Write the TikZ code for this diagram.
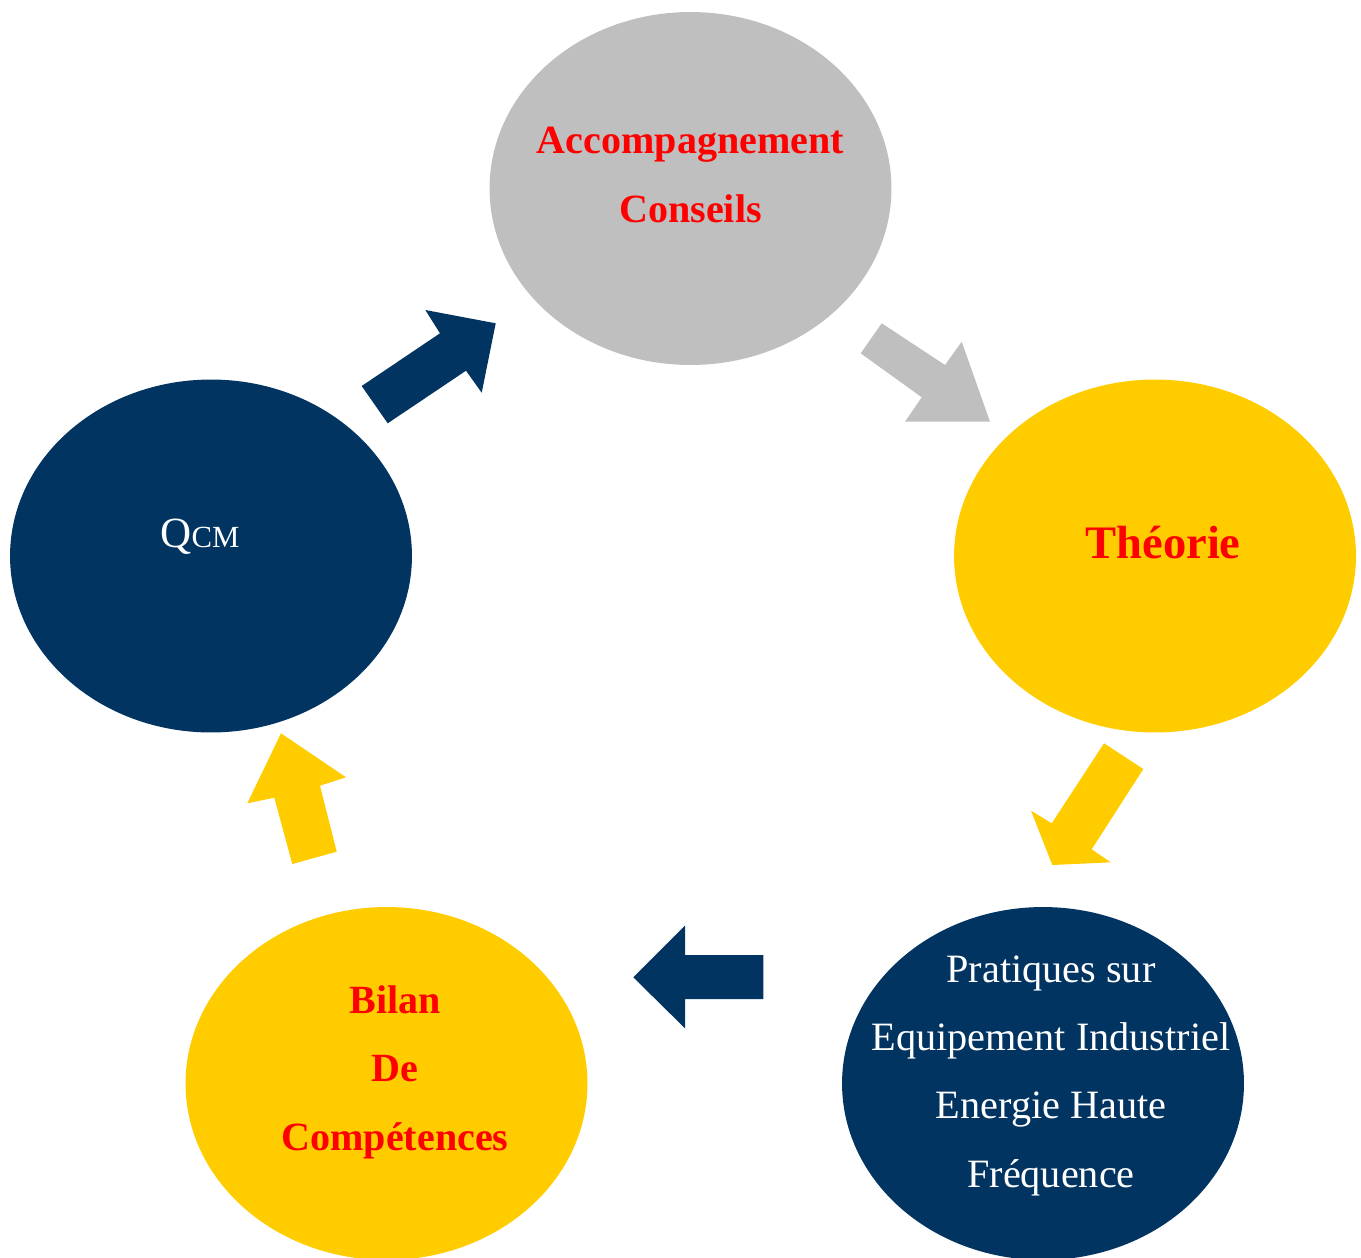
\documentclass[tikz,border=0pt]{standalone}
\usepackage{fontspec}
\setmainfont{Liberation Serif}
\usetikzlibrary{shapes.geometric}

\definecolor{navy}{HTML}{023462}
\definecolor{sun}{HTML}{FFCC00}
\definecolor{ash}{HTML}{BFBFBF}

\tikzset{
	etape/.style={ellipse,draw=none,minimum width=8.04cm,minimum height=7.06cm,inner sep=0pt},
	titre/.style={align=center,anchor=base,text=red,font=\fontsize{22.8}{38.8}\selectfont\bfseries},
	texte/.style={align=center,anchor=base,text=white,font=\fontsize{22.9}{38.8}\selectfont}
}

\begin{document}
\begin{tikzpicture}[x=0.02cm,y=-0.02cm]
		\useasboundingbox (0,0) rectangle (1361,1257);

		\node[etape,fill=ash] (acc) at (690.5,188.5) {};
		\node[etape,fill=sun] (theo) at (1155,556) {};
		\node[etape,fill=navy] (pra) at (1043,1083.5) {};
		\node[etape,fill=sun] (bil) at (386.5,1083.5) {};
		\node[etape,fill=navy] (qcm) at (211,556) {};

		\node[titre] (acc-t) at (690.5,222) {Accompagnement\\Conseils};
		\node[titre,font=\fontsize{26.5}{38.8}\selectfont\bfseries] (theo-t) at (1163,558) {Théorie};
		\node[texte] (pra-t) at (1051,1187) {Pratiques sur\\Equipement Industriel\\Energie Haute\\Fréquence};
		\node[titre] (bil-t) at (395,1150) {Bilan\\De\\Compétences};
		\node[texte,font=\fontsize{24.5}{30}\selectfont] (qcm-t) at (200,547) {Q{\fontsize{17.5}{20}\selectfont CM}};

		% fleches
		\fill[navy] (361.7,386) -- (440,333.3) -- (425.3,310) -- (495.7,323.3) -- (481.7,392.7) -- (466,370.7) -- (387.7,423.3) -- cycle;
		\fill[ash] (881.7,323.3) -- (945,365) -- (961.7,341.7) -- (990,421.7) -- (905,421.7) -- (921.7,397.3) -- (860.7,353.3) -- cycle;
		\fill[sun] (1104,743.3) -- (1143.3,769) -- (1091.7,849.3) -- (1110.7,862.3) -- (1052.3,865) -- (1031,810.7) -- (1051.7,823.3) -- cycle;
		\fill[navy] (763.3,955) -- (685,955) -- (685,925.7) -- (633.3,977.3) -- (685,1028.3) -- (685,999) -- (763.3,999) -- cycle;
		\fill[sun] (292.3,864) -- (274.3,797.7) -- (247.3,803.3) -- (281,733.3) -- (346,777.3) -- (320,785.7) -- (336.7,851.7) -- cycle;
	\end{tikzpicture}
\end{document}
